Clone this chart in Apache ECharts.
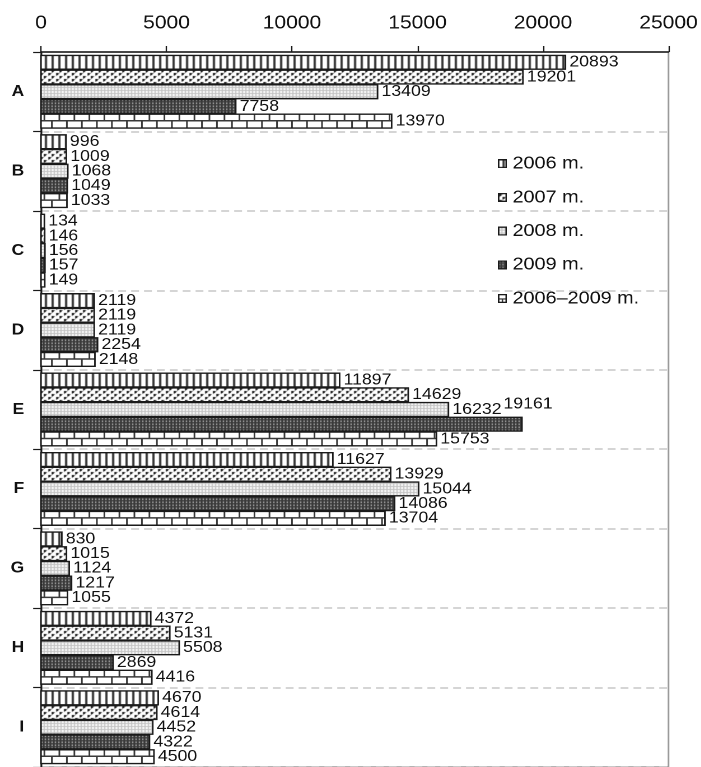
<!DOCTYPE html>
<html>
<head>
<meta charset="utf-8">
<script src="https://cdn.jsdelivr.net/npm/echarts/dist/echarts.min.js"></script>
<style>
  html, body { margin: 0; padding: 0; background: #fff; overflow: hidden; }
  #main { width: 625.9px; height: 767px; transform: scaleX(1.12); transform-origin: 0 0; }
</style>
</head>
<body>
<div id="main"></div>
<script>
// ---- data ----
const categories = ['A', 'B', 'C', 'D', 'E', 'F', 'G', 'H', 'I'];
const seriesNames = ['2006 m.', '2007 m.', '2008 m.', '2009 m.', '2006–2009 m.'];
const values2006 = [20893, 996, 134, 2119, 11897, 11627, 830, 4372, 4670];
const values2007 = [19201, 1009, 146, 2119, 14629, 13929, 1015, 5131, 4614];
const values2008 = [13409, 1068, 156, 2119, 16232, 15044, 1124, 5508, 4452];
const values2009 = [7758, 1049, 157, 2254, 19161, 14086, 1217, 2869, 4322];
const values2006to2009 = [13970, 1033, 149, 2148, 15753, 13704, 1055, 4416, 4500];
const allValues = [values2006, values2007, values2008, values2009, values2006to2009];
const axisMin = 0, axisMax = 25000, axisInterval = 5000;

const FONT = '"Liberation Sans", Arial, sans-serif';

// ---- pattern tiles ----
function tile(w, h, draw) {
  const c = document.createElement('canvas');
  c.width = w; c.height = h;
  draw(c.getContext('2d'));
  return c;
}
const stripeTile = tile(6, 4, g => {
  g.fillStyle = '#fff'; g.fillRect(0, 0, 6, 4);
  g.fillStyle = '#383838'; g.fillRect(4, 0, 2, 4);
});
const dotTile = tile(7, 6, g => {
  g.fillStyle = '#fff'; g.fillRect(0, 0, 7, 6);
  g.fillStyle = '#1a1a1a'; g.fillRect(1, 1, 2, 2); g.fillRect(4, 4, 2, 2);
  g.fillStyle = '#7a7a7a'; g.fillRect(3, 1, 1, 1); g.fillRect(6, 4, 1, 1); g.fillRect(1, 3, 1, 1); g.fillRect(4, 0, 1, 1);
});
const fineTile = tile(3, 3, g => {
  g.fillStyle = '#c2c2c2'; g.fillRect(0, 0, 3, 3);
  g.fillStyle = '#fafafa'; g.fillRect(1, 1, 2, 2);
});
const darkTile = tile(3, 3, g => {
  g.fillStyle = '#3a3a3a'; g.fillRect(0, 0, 3, 3);
  g.fillStyle = '#c8c8c8'; g.fillRect(1, 1, 1, 1);
  g.fillStyle = '#7a7a7a'; g.fillRect(1, 0, 1, 1);
});
const fills = [
  { image: stripeTile, repeat: 'repeat' },
  { image: dotTile, repeat: 'repeat' },
  { image: fineTile, repeat: 'repeat' },
  { image: darkTile, repeat: 'repeat' },
  '#ffffff'
];

// ---- legend icons ----
function legendIcon(si) {
  const s = 4, w = 8, h = 9;
  const c = document.createElement('canvas');
  c.width = w * s; c.height = h * s;
  const g = c.getContext('2d');
  g.scale(s, s);
  const tiles = [stripeTile, dotTile, fineTile, darkTile];
  g.fillStyle = '#fff'; g.fillRect(0, 0, w, h);
  if (si < 4) {
    g.fillStyle = g.createPattern(tiles[si], 'repeat');
    g.fillRect(0, 0, w, h);
  } else {
    g.strokeStyle = '#333'; g.lineWidth = 1.2;
    g.beginPath(); g.moveTo(0, h * 0.55); g.lineTo(w, h * 0.55);
    g.moveTo(w * 0.5, h * 0.55); g.lineTo(w * 0.5, h); g.stroke();
  }
  g.strokeStyle = '#1a1a1a'; g.lineWidth = 1.3;
  g.strokeRect(0.65, 0.65, w - 1.3, h - 1.3);
  return 'image://' + c.toDataURL();
}

// ---- bars ----
const BAR_H = 13.8, BAR_GAP = 0.9;
function makeRender(si) {
  return function (params, api) {
    const ci = api.value(0), v = api.value(1);
    const p0 = api.coord([0, ci]);
    const p1 = api.coord([v, ci]);
    const total = 5 * BAR_H + 4 * BAR_GAP;
    const y = p0[1] - total / 2 + si * (BAR_H + BAR_GAP);
    const x = p0[0], w = p1[0] - p0[0];
    const children = [{
      type: 'rect', shape: { x: x, y: y, width: w, height: BAR_H },
      style: { fill: fills[si] }
    }];
    if (si === 4) {
      const ym = y + BAR_H * 0.47;
      const mortar = { stroke: '#3a3a3a', lineWidth: 1.5 };
      children.push({ type: 'line', shape: { x1: x, y1: ym, x2: x + w, y2: ym }, style: mortar });
      const bw = 13.4;
      for (let bx = x + 3; bx < x + w - 1; bx += bw) {
        children.push({ type: 'line', shape: { x1: bx, y1: y, x2: bx, y2: ym }, style: mortar });
      }
      for (let bx = x + 3 + bw / 2; bx < x + w - 1; bx += bw) {
        children.push({ type: 'line', shape: { x1: bx, y1: ym, x2: bx, y2: y + BAR_H }, style: mortar });
      }
    }
    children.push({
      type: 'rect', shape: { x: x, y: y, width: w, height: BAR_H },
      style: { fill: 'none', stroke: '#1a1a1a', lineWidth: 1.4 }
    });
    let dx = 0, dy = 0;
    if (categories[ci] === 'E' && si === 3) { dx = -20; dy = -20; }
    children.push({
      type: 'text',
      style: {
        text: String(v), x: p1[0] + 3.5 + dx, y: y + BAR_H / 2 + dy,
        align: 'left', verticalAlign: 'middle',
        fontSize: 15.8, fontFamily: FONT, fill: '#111'
      }
    });
    return { type: 'group', children: children };
  };
}

const chart = echarts.init(document.getElementById('main'), null, { devicePixelRatio: 2, renderer: 'canvas' });
chart.setOption({
  animation: false,
  backgroundColor: '#fff',
  grid: { left: 36.6, right: 26.8, top: 52, bottom: -6, show: true, borderColor: '#9a9a9a', borderWidth: 1.5, backgroundColor: 'transparent' },
  legend: {
    orient: 'vertical', left: 439.6, top: 149.7, itemGap: 15.7,
    itemWidth: 8, itemHeight: 9, selectedMode: false,
    textStyle: { fontSize: 17.7, lineHeight: 18, fontFamily: FONT, color: '#111' },
    data: seriesNames.map((n, i) => ({ name: n, icon: legendIcon(i) }))
  },
  xAxis: {
    type: 'value', position: 'top', min: axisMin, max: axisMax, interval: axisInterval,
    axisLine: { show: true, lineStyle: { color: '#1a1a1a', width: 1.5 } },
    axisTick: { show: true, length: 6, lineStyle: { color: '#1a1a1a', width: 1.2 } },
    axisLabel: { margin: 19, fontSize: 18.8, fontFamily: FONT, color: '#111', formatter: v => String(v) },
    splitLine: { show: false }
  },
  yAxis: {
    type: 'category', inverse: true, data: categories,
    axisLine: { show: true, lineStyle: { color: '#1a1a1a', width: 1.5 } },
    axisTick: { show: true, length: 7, lineStyle: { color: '#1a1a1a', width: 1.2 } },
    axisLabel: { margin: 15, fontSize: 15.5, fontWeight: 'bold', fontFamily: FONT, color: '#111' },
    splitLine: { show: true, lineStyle: { color: '#c8c8c8', width: 1.5, type: [7, 4.5] } }
  },
  series: allValues.map((vals, si) => ({
    type: 'custom', name: seriesNames[si], coordinateSystem: 'cartesian2d',
    renderItem: makeRender(si),
    encode: { x: 1, y: 0 },
    itemStyle: { color: '#555' },
    data: vals.map((v, i) => [i, v])
  }))
});
</script>
</body>
</html>
